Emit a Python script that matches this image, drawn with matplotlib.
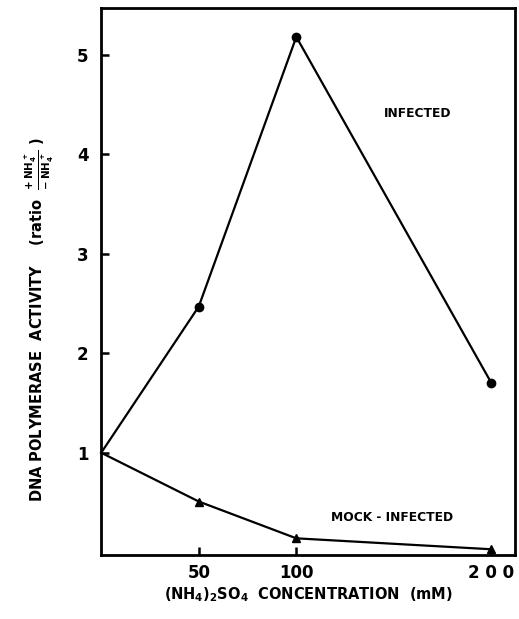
import matplotlib.pyplot as plt

# (NH4)2SO4 concentration, mM
conc = [0, 50, 100, 200]
infected = [1.0, 2.47, 5.18, 1.70]
mock = [1.0, 0.51, 0.14, 0.03]

xticks = [50, 100, 200]
yticks = [1, 2, 3, 4, 5]

plt.rcParams['font.family'] = ['DejaVu Sans']
plt.rcParams['mathtext.fontset'] = 'dejavusans'

fig = plt.figure(figsize=(5.19, 6.19), dpi=100)
ax = fig.add_axes([0.195, 0.103, 0.797, 0.884])

ax.plot(conc, infected, color='black', lw=1.6, marker='o', ms=6,
        markevery=[1, 2, 3], clip_on=False, zorder=3)
ax.plot(conc, mock, color='black', lw=1.6, marker='^', ms=6,
        markevery=[1, 2, 3], clip_on=False, zorder=3)

ax.set_xlim(0, 212)
ax.set_ylim(-0.03, 5.47)
ax.set_xticks(xticks)
ax.set_xticklabels([str(v) for v in xticks[:2]] + ['2 0 0'])
ax.set_yticks(yticks)

for s in ax.spines.values():
    s.set_linewidth(2)
ax.tick_params(direction='in', length=6, width=1.8, labelsize=12)
ax.tick_params(axis='x', pad=6)
ax.tick_params(axis='y', pad=9)
for lab in ax.get_xticklabels() + ax.get_yticklabels():
    lab.set_fontweight('bold')

ax.set_xlabel(r'(NH$_\mathbf{4}$)$_\mathbf{2}$SO$_\mathbf{4}$  CONCENTRATION  (mM)',
              fontsize=10.5, fontweight='bold', labelpad=3)
ax.set_ylabel(r'DNA POLYMERASE  ACTIVITY    (ratio  $\mathbf{\frac{+\,NH_4^{\,+}}{-\,NH_4^{\,+}}}$ )',
              fontsize=10.5, fontweight='bold')
ax.yaxis.set_label_coords(-0.11, 0.43)

ax.text(145, 4.41, 'INFECTED', fontsize=8.8, fontweight='bold', ha='left', va='center')
ax.text(118, 0.35, 'MOCK - INFECTED', fontsize=8.8, fontweight='bold', ha='left', va='center')

fig.savefig('out.png', dpi=100)
